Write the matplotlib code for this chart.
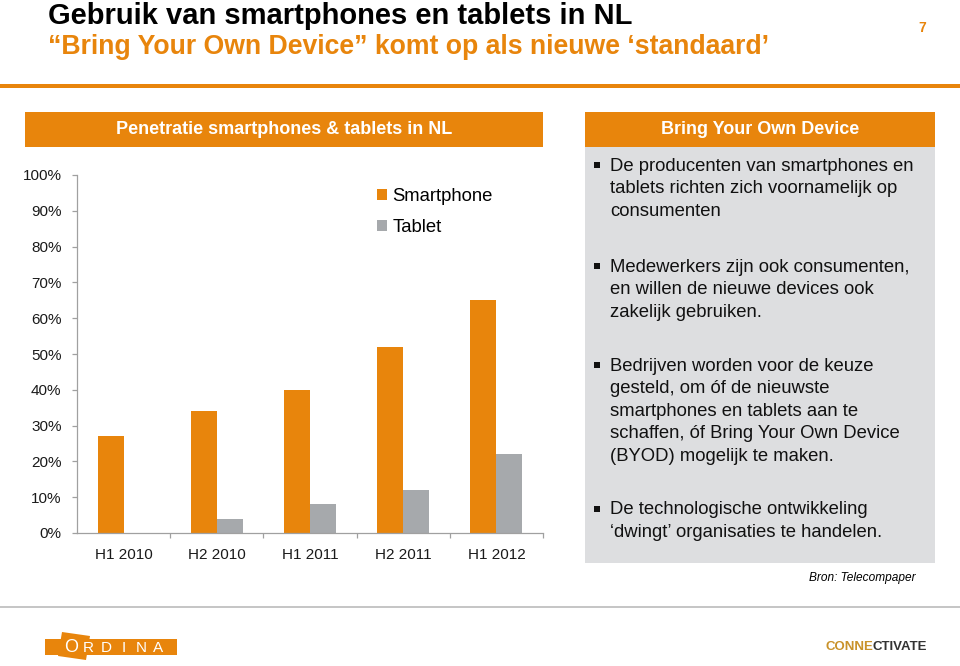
import matplotlib
matplotlib.use("Agg")
import matplotlib.pyplot as plt
from matplotlib.patches import Rectangle, Polygon
from matplotlib.lines import Line2D
import numpy as np

plt.rcParams['font.family'] = ['Liberation Sans', 'DejaVu Sans']

# ---- data ----
categories = ["H1 2010", "H2 2010", "H1 2011", "H2 2011", "H1 2012"]
smartphone = [0.27, 0.34, 0.40, 0.52, 0.65]
tablet = [0.0, 0.04, 0.08, 0.12, 0.22]
series_names = ["Smartphone", "Tablet"]
ytick_values = [0.0, 0.1, 0.2, 0.3, 0.4, 0.5, 0.6, 0.7, 0.8, 0.9, 1.0]
ytick_labels = ["0%", "10%", "20%", "30%", "40%", "50%", "60%", "70%", "80%", "90%", "100%"]

title = "Gebruik van smartphones en tablets in NL"
subtitle = "\u201cBring Your Own Device\u201d komt op als nieuwe \u2018standaard\u2019"
page_no = "7"
left_header = "Penetratie smartphones & tablets in NL"
right_header = "Bring Your Own Device"
paragraphs = [
    ["De producenten van smartphones en",
     "tablets richten zich voornamelijk op",
     "consumenten"],
    ["Medewerkers zijn ook consumenten,",
     "en willen de nieuwe devices ook",
     "zakelijk gebruiken."],
    ["Bedrijven worden voor de keuze",
     "gesteld, om \u00f3f de nieuwste",
     "smartphones en tablets aan te",
     "schaffen, \u00f3f Bring Your Own Device",
     "(BYOD) mogelijk te maken."],
    ["De technologische ontwikkeling",
     "\u2018dwingt\u2019 organisaties te handelen."],
]
source = "Bron: Telecompaper"

ORANGE = "#E8850C"
GREY_BAR = "#A6A9AC"
BOX_GREY = "#DDDEE0"
AXIS_GREY = "#A0A0A0"

W, H = 960, 666
fig = plt.figure(figsize=(W / 100, H / 100), dpi=100)
fig.patch.set_facecolor("white")


def fx(x):
    return x / W


def fy(y):
    return 1 - y / H


def rect(x0, y0, x1, y1, color, z=0):
    fig.add_artist(Rectangle((fx(x0), fy(y1)), fx(x1) - fx(x0), fy(y0) - fy(y1),
                             transform=fig.transFigure, facecolor=color,
                             edgecolor="none", zorder=z))


# ---- header ----
fig.text(fx(48), fy(16), title, fontsize=21, fontweight="bold", color="black",
         ha="left", va="center")
fig.text(fx(48), fy(47), subtitle, fontsize=19.2, fontweight="bold", color=ORANGE,
         ha="left", va="center")
fig.text(fx(922), fy(28), page_no, fontsize=10, fontweight="bold", color=ORANGE,
         ha="center", va="center")
rect(0, 84, W, 88, ORANGE)

# section headers
rect(25, 112, 543, 147, ORANGE)
fig.text(fx(284), fy(129), left_header, fontsize=13, fontweight="bold", color="white",
         ha="center", va="center")
rect(585, 112, 935, 147, ORANGE)
fig.text(fx(760), fy(129), right_header, fontsize=13, fontweight="bold", color="white",
         ha="center", va="center")

# ---- chart ----
ax_l, ax_r, ax_t, ax_b = 77, 543, 175, 533
ax = fig.add_axes([fx(ax_l), fy(ax_b), fx(ax_r) - fx(ax_l), fy(ax_t) - fy(ax_b)])
x = np.arange(len(categories))
bw = 0.278
b1 = ax.bar(x - bw / 2, smartphone, bw, color=ORANGE, edgecolor="none", label=series_names[0])
b2 = ax.bar(x + bw / 2, tablet, bw, color=GREY_BAR, edgecolor="none", label=series_names[1])
ax.set_xlim(-0.5, len(categories) - 0.5)
ax.set_ylim(0, 1)
ax.set_yticks(ytick_values)
ax.set_yticklabels(ytick_labels)
ax.set_xticks(x)
ax.set_xticklabels(categories)
ax.set_xticks(np.arange(len(categories)) + 0.5, minor=True)
for s in ["top", "right"]:
    ax.spines[s].set_visible(False)
for s in ["left", "bottom"]:
    ax.spines[s].set_color(AXIS_GREY)
    ax.spines[s].set_linewidth(0.9)
ax.tick_params(axis="y", direction="out", length=3.6, width=0.9, color=AXIS_GREY,
               labelsize=11, labelcolor="#1a1a1a", pad=7.5)
ax.tick_params(axis="x", which="major", length=0, labelsize=11, labelcolor="#1a1a1a", pad=11)
ax.tick_params(axis="x", which="minor", direction="out", length=3.6, width=0.9, color=AXIS_GREY)
ax.set_facecolor("none")

ax.legend(handles=[b1, b2], loc="upper left", bbox_to_anchor=(fx(377), fy(188)),
          bbox_transform=fig.transFigure, frameon=False, fontsize=13.3,
          handlelength=0.55, handleheight=0.55, handletextpad=0.3,
          labelspacing=0.78, borderpad=0, borderaxespad=0)

# ---- right text box ----
rect(585, 147, 935, 563, BOX_GREY)
para_top = [166, 267, 366, 510]
pitch = 22.6
for ptop, lines in zip(para_top, paragraphs):
    rect(594, ptop - 4, 599.5, ptop + 1.5, "#111111", z=2)
    for i, line in enumerate(lines):
        fig.text(fx(610), fy(ptop + i * pitch), line, fontsize=13.3, color="#111111",
                 ha="left", va="center")

fig.text(fx(916), fy(578), source, fontsize=8.6, fontstyle="italic", color="black",
         ha="right", va="center")

# ---- footer ----
fig.add_artist(Line2D([0, 1], [fy(607), fy(607)], transform=fig.transFigure,
                      color="#BBBBBB", linewidth=1.2))
# Ordina logo
rect(45, 639, 177, 655, ORANGE)
cx, cy, r = 74, 646, 16
fig.add_artist(Polygon([(fx(cx - r + 4), fy(cy - r + 2)), (fx(cx + r), fy(cy - r + 6)),
                        (fx(cx + r - 4), fy(cy + r - 2)), (fx(cx - r), fy(cy + r - 6))],
                       closed=True, transform=fig.transFigure, facecolor=ORANGE,
                       edgecolor="none"))
for i, ch in enumerate("ORDINA"):
    fig.text(fx(71 + i * 17.5), fy(648), ch, fontsize=13 if ch == "O" else 11,
             color="white", ha="center", va="center")
# Connectivate
t1 = fig.text(fx(825), fy(647), "CONNE", fontsize=9.5, fontweight="bold", color="#C9922A",
              ha="left", va="center")
fig.canvas.draw()
bb = t1.get_window_extent()
fig.text(bb.x1 / W, fy(647), "CTIVATE", fontsize=9.5, fontweight="bold", color="#333333",
         ha="left", va="center")

fig.savefig("out.png", dpi=100, facecolor="white")
